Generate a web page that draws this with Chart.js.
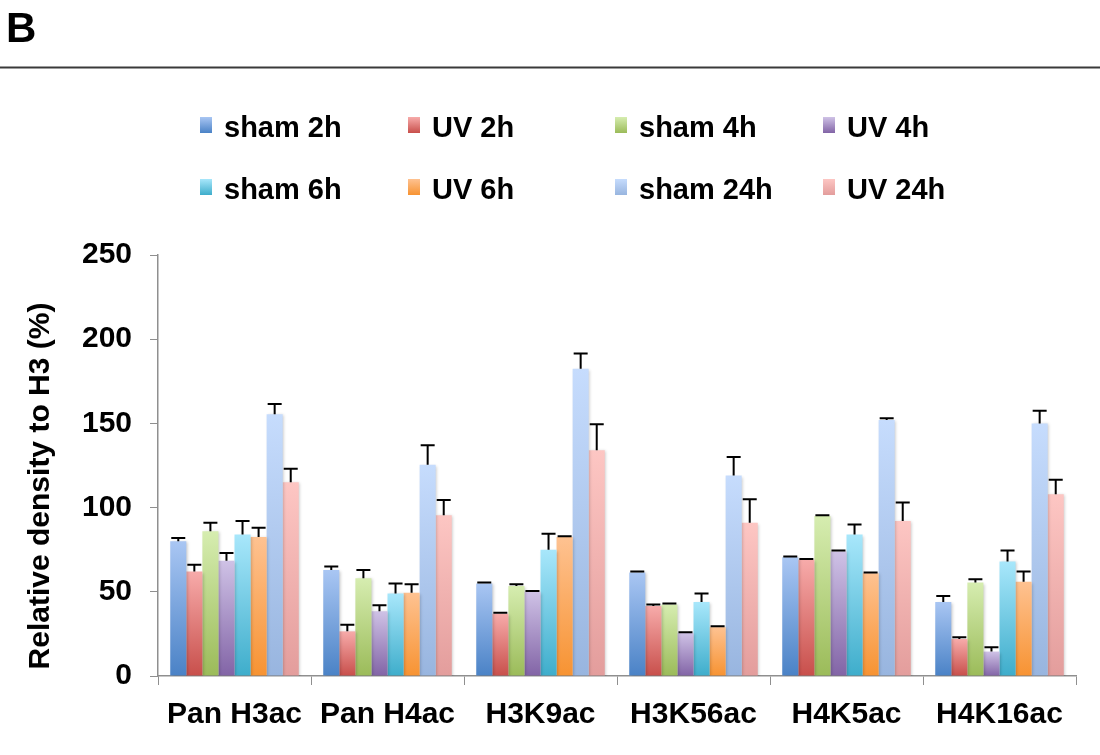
<!DOCTYPE html>
<html>
<head>
<meta charset="utf-8">
<script src="https://cdn.jsdelivr.net/npm/chart.js@4/dist/chart.umd.min.js"></script>
<style>
  html, body { margin: 0; padding: 0; background: #ffffff; }
  #wrap { width: 1100px; height: 755px; position: relative; }
</style>
</head>
<body>
<div id="wrap"><canvas id="c" width="1100" height="755"></canvas></div>
<script>
// Histone acetylation groups on the x axis
const categories = ['Pan H3ac', 'Pan H4ac', 'H3K9ac', 'H3K56ac', 'H4K5ac', 'H4K16ac'];
const seriesNames = ['sham 2h', 'UV 2h', 'sham 4h', 'UV 4h', 'sham 6h', 'UV 6h', 'sham 24h', 'UV 24h'];
const yTicks = [0, 50, 100, 150, 200, 250];

// Mean relative density (%) per group
const sham2h  = [80, 63, 55, 61.5, 70.5, 44];
const uv2h    = [62, 26.5, 37, 41.5, 69, 22];
const sham4h  = [86, 58, 53.5, 42.5, 95, 55.5];
const uv4h    = [68.5, 38.5, 50, 25.5, 74, 14.5];
const sham6h  = [84, 49, 75, 44, 84, 68];
const uv6h    = [82.5, 49.5, 82.5, 29, 61, 56];
const sham24h = [155.5, 125.5, 182.5, 119, 152, 150];
const uv24h   = [115, 95.5, 134, 91, 92, 108];

// Upper error (SD) per group
const sham2hErr  = [2, 2, 0.5, 0.5, 0.5, 3.5];
const uv2hErr    = [4, 4, 0.5, 1, 0.5, 1];
const sham4hErr  = [5, 5, 1, 0.5, 0.5, 2];
const uv4hErr    = [4.5, 3.5, 0.5, 0.5, 0.5, 2.5];
const sham6hErr  = [8, 6, 9.5, 5, 6, 6.5];
const uv6hErr    = [5.5, 5, 0.5, 0.5, 0.5, 6];
const sham24hErr = [6, 11.5, 9, 11, 1, 7.5];
const uv24hErr   = [8, 9, 15.5, 14, 11, 8.5];

const seriesValues = [sham2h, uv2h, sham4h, uv4h, sham6h, uv6h, sham24h, uv24h];
const seriesErrors = [sham2hErr, uv2hErr, sham4hErr, uv4hErr, sham6hErr, uv6hErr, sham24hErr, uv24hErr];

// Gradient colours for each series: [top, bottom]
const seriesColors = [
  ['#a9c6f3', '#4a82c6'],
  ['#f7abaa', '#c84f4b'],
  ['#d6edb0', '#9bbb59'],
  ['#cfc2e6', '#8264a6'],
  ['#a8e7fb', '#3eadcb'],
  ['#fec291', '#f79332'],
  ['#c6dcfd', '#98b5df'],
  ['#fdc6c3', '#e39d9c']
];

const FONT = '"Liberation Sans", Arial, Helvetica, sans-serif';

function barGradient(i) {
  return function (ctx) {
    const chart = ctx.chart;
    const fallback = seriesColors[i][1];
    if (!chart.chartArea || ctx.raw === undefined) return fallback;
    const y = chart.scales.y;
    const top = y.getPixelForValue(ctx.raw);
    const bottom = y.getPixelForValue(0);
    if (!isFinite(top) || !isFinite(bottom) || top === bottom) return fallback;
    const g = chart.ctx.createLinearGradient(0, top, 0, bottom);
    g.addColorStop(0, seriesColors[i][0]);
    g.addColorStop(1, seriesColors[i][1]);
    return g;
  };
}

const datasets = seriesNames.map((name, i) => ({
  label: name,
  data: seriesValues[i],
  backgroundColor: barGradient(i),
  borderWidth: 0,
  categoryPercentage: 0.84,
  barPercentage: 1.0
}));

// Soft drop shadow under the bars, then upper error bars on top
const barDecor = {
  id: 'barDecor',
  beforeDatasetsDraw(chart) {
    const c = chart.ctx;
    c.save();
    c.shadowColor = 'rgba(0,0,0,0.22)';
    c.shadowBlur = 3;
    c.shadowOffsetX = 1.5;
    c.shadowOffsetY = 1;
  },
  afterDatasetsDraw(chart) {
    const c = chart.ctx;
    c.restore();
    const y = chart.scales.y;
    c.save();
    c.strokeStyle = '#000000';
    c.lineWidth = 2;
    c.lineCap = 'butt';
    chart.data.datasets.forEach((ds, i) => {
      const meta = chart.getDatasetMeta(i);
      meta.data.forEach((bar, j) => {
        const v = seriesValues[i][j];
        const e = seriesErrors[i][j];
        const yBar = y.getPixelForValue(v);
        const yTop = y.getPixelForValue(v + e);
        c.beginPath();
        c.moveTo(bar.x, yBar);
        c.lineTo(bar.x, yTop);
        c.moveTo(bar.x - 7, yTop);
        c.lineTo(bar.x + 7, yTop);
        c.stroke();
      });
    });
    c.restore();
  }
};

// Panel letter, rule, legend and y-axis title
const figureDecor = {
  id: 'figureDecor',
  afterDraw(chart) {
    const c = chart.ctx;
    c.save();

    // panel letter
    c.fillStyle = '#000';
    c.font = 'bold 42px ' + FONT;
    c.textAlign = 'left';
    c.textBaseline = 'alphabetic';
    c.fillText('B', 6, 42);

    // horizontal rule
    c.strokeStyle = '#3a3a3a';
    c.lineWidth = 2;
    c.beginPath();
    c.moveTo(0, 67.5);
    c.lineTo(1100, 67.5);
    c.stroke();

    // legend: 2 rows x 4 columns
    const colX = [200, 408, 615, 823];
    const rowBase = [137, 198.5];
    const rowBoxTop = [117, 179];
    seriesNames.forEach((name, i) => {
      const col = i % 4;
      const row = Math.floor(i / 4);
      const bx = colX[col];
      const by = rowBoxTop[row];
      const g = c.createLinearGradient(0, by, 0, by + 16);
      g.addColorStop(0, seriesColors[i][0]);
      g.addColorStop(1, seriesColors[i][1]);
      c.fillStyle = g;
      c.fillRect(bx, by, 12, 16);
      c.fillStyle = '#000';
      c.font = 'bold 29px ' + FONT;
      c.textAlign = 'left';
      c.textBaseline = 'alphabetic';
      c.fillText(name, bx + 24, rowBase[row]);
    });

    // y-axis title
    c.save();
    c.translate(49, 486);
    c.rotate(-Math.PI / 2);
    c.fillStyle = '#000';
    c.font = 'bold 30px ' + FONT;
    c.textAlign = 'center';
    c.textBaseline = 'alphabetic';
    c.fillText('Relative density to H3 (%)', 0, 0);
    c.restore();

    c.restore();
  }
};

const axisColor = '#8f8f8f';

new Chart(document.getElementById('c'), {
  type: 'bar',
  data: { labels: categories, datasets: datasets },
  options: {
    responsive: false,
    animation: false,
    devicePixelRatio: 1,
    layout: { padding: { top: 255, right: 24, left: 0, bottom: 0 } },
    plugins: {
      legend: { display: false },
      tooltip: { enabled: false },
      title: { display: false }
    },
    scales: {
      x: {
        type: 'category',
        grid: {
          display: true,
          drawOnChartArea: false,
          drawTicks: true,
          tickLength: 9,
          color: axisColor,
          lineWidth: 1,
          offset: true
        },
        border: { display: true, color: axisColor, width: 1.5 },
        ticks: {
          color: '#000',
          font: { family: FONT, size: 30, weight: 'bold' },
          padding: 12,
          maxRotation: 0,
          autoSkip: false
        },
        afterFit(scale) { scale.height = 79; }
      },
      y: {
        min: 0,
        max: 250,
        afterBuildTicks(scale) { scale.ticks = yTicks.map(v => ({ value: v })); },
        grid: {
          display: true,
          drawOnChartArea: false,
          drawTicks: true,
          tickLength: 8,
          color: axisColor,
          lineWidth: 1
        },
        border: { display: true, color: axisColor, width: 1.5 },
        ticks: {
          color: '#000',
          font: { family: FONT, size: 30, weight: 'bold' },
          padding: 18
        },
        afterFit(scale) { scale.width = 158; }
      }
    }
  },
  plugins: [barDecor, figureDecor]
});
</script>
</body>
</html>
